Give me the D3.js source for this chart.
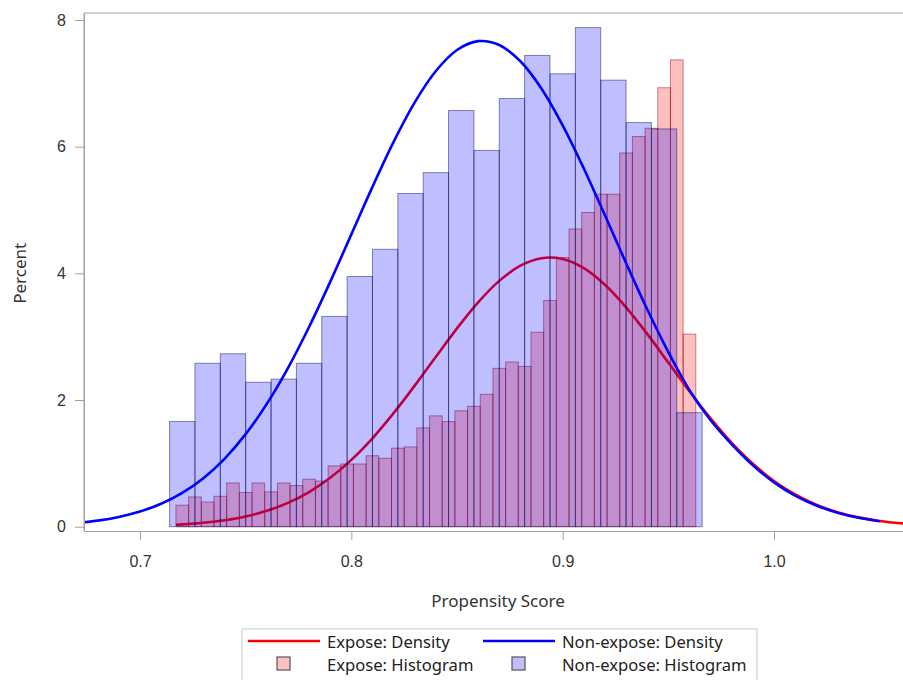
<!DOCTYPE html>
<html>
<head>
<meta charset="utf-8">
<script src="https://cdn.jsdelivr.net/npm/d3@7"></script>
<style>
  body { margin: 0; background: #fff; }
  svg { display: block; font-family: "Noto Sans", "Open Sans", sans-serif; }
</style>
</head>
<body>
<div id="chart"></div>
<script>
// histogram bins (midpoints) and percents
const exposeBins = [0.720, 0.726, 0.732, 0.738, 0.744, 0.750, 0.756, 0.762, 0.768, 0.774,
  0.780, 0.786, 0.792, 0.798, 0.804, 0.810, 0.816, 0.822, 0.828, 0.834,
  0.840, 0.846, 0.852, 0.858, 0.864, 0.870, 0.876, 0.882, 0.888, 0.894,
  0.900, 0.906, 0.912, 0.918, 0.924, 0.930, 0.936, 0.942, 0.948, 0.954, 0.960];
const exposePercent = [0.34, 0.47, 0.39, 0.48, 0.69, 0.54, 0.69, 0.55, 0.69, 0.65,
  0.75, 0.72, 0.96, 0.99, 0.99, 1.12, 1.08, 1.24, 1.26, 1.56,
  1.75, 1.66, 1.83, 1.90, 2.09, 2.50, 2.60, 2.53, 3.07, 3.57,
  4.25, 4.70, 4.96, 5.25, 5.25, 5.90, 6.16, 6.29, 6.93, 7.37, 3.04];
const exposeBinWidth = 0.006;

const nonExposeBins = [0.720, 0.732, 0.744, 0.756, 0.768, 0.780, 0.792, 0.804, 0.816, 0.828,
  0.840, 0.852, 0.864, 0.876, 0.888, 0.900, 0.912, 0.924, 0.936, 0.948, 0.960];
const nonExposePercent = [1.66, 2.58, 2.73, 2.28, 2.33, 2.58, 3.32, 3.95, 4.38, 5.26,
  5.59, 6.57, 5.94, 6.76, 7.44, 7.15, 7.88, 7.05, 6.38, 6.28, 1.80];
const nonExposeBinWidth = 0.012;

// density curves
const exposeDensityX = [0.717, 0.72, 0.73, 0.74, 0.75, 0.76, 0.77, 0.78, 0.79, 0.80,
  0.81, 0.82, 0.83, 0.84, 0.85, 0.86, 0.87, 0.88, 0.89, 0.90,
  0.91, 0.92, 0.93, 0.94, 0.95, 0.96, 0.97, 0.98, 0.99, 1.00,
  1.01, 1.02, 1.03, 1.04, 1.05, 1.06, 1.07];
const exposeDensity = [0.030, 0.036, 0.061, 0.101, 0.161, 0.250, 0.376, 0.547, 0.772, 1.055,
  1.396, 1.792, 2.227, 2.683, 3.131, 3.542, 3.881, 4.121, 4.239, 4.226,
  4.082, 3.820, 3.464, 3.044, 2.591, 2.138, 1.709, 1.323, 0.993, 0.722,
  0.509, 0.347, 0.230, 0.147, 0.091, 0.055, 0.032];

const nonExposeDensityX = [0.67, 0.68, 0.69, 0.70, 0.71, 0.72, 0.73, 0.74, 0.75, 0.76,
  0.77, 0.78, 0.79, 0.80, 0.81, 0.82, 0.83, 0.84, 0.85, 0.86,
  0.87, 0.88, 0.89, 0.90, 0.91, 0.92, 0.93, 0.94, 0.95, 0.96,
  0.97, 0.98, 0.99, 1.00, 1.01, 1.02, 1.03, 1.04, 1.05];
const nonExposeDensity = [0.059, 0.096, 0.154, 0.239, 0.362, 0.534, 0.766, 1.072, 1.461, 1.939,
  2.505, 3.153, 3.865, 4.615, 5.365, 6.075, 6.699, 7.194, 7.526, 7.666,
  7.605, 7.348, 6.915, 6.337, 5.656, 4.916, 4.162, 3.432, 2.756, 2.155,
  1.68, 1.30, 0.97, 0.70, 0.49, 0.335, 0.22, 0.14, 0.085];

const xTicks = [0.7, 0.8, 0.9, 1.0];
const yTicks = [0, 2, 4, 6, 8];

const legendItems = ['Expose: Density', 'Non-expose: Density', 'Expose: Histogram', 'Non-expose: Histogram'];

const options = { width: 903, height: 680 };
const plot = { left: 84, right: 912, top: 13, bottom: 531 };

const svg = d3.select('#chart')
  .append('svg')
  .attr('width', options.width)
  .attr('height', options.height);

const x = d3.scaleLinear()
  .domain([0.6735, 1.0653])
  .range([plot.left, plot.right]);

const y = d3.scaleLinear()
  .domain([-0.068, 8.11])
  .range([plot.bottom, plot.top]);

svg.append('clipPath')
  .attr('id', 'plot-clip')
  .append('rect')
  .attr('x', plot.left)
  .attr('y', plot.top)
  .attr('width', plot.right - plot.left)
  .attr('height', plot.bottom - plot.top);

const g = svg.append('g').attr('clip-path', 'url(#plot-clip)');

const line = d3.line()
  .x(d => x(d[0]))
  .y(d => y(d[1]))
  .curve(d3.curveCatmullRom.alpha(0.5));

function drawBars(bins, values, width, fill, stroke) {
  g.append('g')
    .selectAll('rect')
    .data(bins.map((b, i) => ({ mid: b, v: values[i] })))
    .enter()
    .append('rect')
    .attr('x', d => x(d.mid - width / 2))
    .attr('width', d => x(d.mid + width / 2) - x(d.mid - width / 2))
    .attr('y', d => y(d.v))
    .attr('height', d => y(0) - y(d.v))
    .attr('fill', fill)
    .attr('stroke', stroke)
    .attr('stroke-width', 1);
}

function drawCurve(xs, ys, color) {
  g.append('path')
    .datum(xs.map((v, i) => [v, ys[i]]))
    .attr('fill', 'none')
    .attr('stroke', color)
    .attr('stroke-width', 2.6)
    .attr('d', line);
}

// expose first, non-expose overlaid on top
drawBars(exposeBins, exposePercent, exposeBinWidth, 'rgba(255,0,0,0.25)', 'rgba(130,0,0,0.45)');
drawCurve(exposeDensityX, exposeDensity, '#ff0000');
drawBars(nonExposeBins, nonExposePercent, nonExposeBinWidth, 'rgba(0,0,255,0.25)', 'rgba(0,0,80,0.45)');
drawCurve(nonExposeDensityX, nonExposeDensity, '#0000ff');

// frame and axes
const axisColor = '#a0a0a0';
svg.append('path')
  .attr('d', `M${plot.left},${plot.bottom}V${plot.top}H${plot.right}`)
  .attr('fill', 'none')
  .attr('stroke', axisColor);

const xAxis = svg.append('g')
  .attr('transform', `translate(0,${plot.bottom})`)
  .call(d3.axisBottom(x).tickValues(xTicks).tickFormat(d3.format('.1f')).tickSize(9).tickSizeOuter(0));
xAxis.select('.domain').attr('stroke', axisColor);
xAxis.selectAll('.tick line').attr('stroke', axisColor);
xAxis.selectAll('.tick text')
  .attr('y', 36).attr('dy', 0)
  .attr('fill', '#333')
  .attr('font-size', 16);

const yAxis = svg.append('g')
  .attr('transform', `translate(${plot.left},0)`)
  .call(d3.axisLeft(y).tickValues(yTicks).tickFormat(d3.format('d')).tickSize(9).tickSizeOuter(0));
yAxis.select('.domain').attr('stroke', axisColor);
yAxis.selectAll('.tick line').attr('stroke', axisColor);
yAxis.selectAll('.tick text')
  .attr('x', -18)
  .attr('fill', '#333')
  .attr('font-size', 16);

svg.append('text')
  .text('Propensity Score')
  .attr('x', (plot.left + plot.right) / 2)
  .attr('y', 607)
  .attr('text-anchor', 'middle')
  .attr('font-size', 17)
  .attr('fill', '#333');

svg.append('text')
  .text('Percent')
  .attr('transform', `translate(26,${(y(0) + y(8)) / 2}) rotate(-90)`)
  .attr('text-anchor', 'middle')
  .attr('font-size', 17)
  .attr('fill', '#333');

// legend
const legend = svg.append('g');
legend.append('rect')
  .attr('x', 242).attr('y', 629)
  .attr('width', 515).attr('height', 56)
  .attr('fill', 'none')
  .attr('stroke', '#c8c8c8');

const legendPos = [
  { lx: 248, tx: 327, cy: 642, kind: 'line', color: '#ff0000' },
  { lx: 483, tx: 562, cy: 642, kind: 'line', color: '#0000ff' },
  { lx: 277, tx: 327, cy: 665, kind: 'box', color: 'rgb(255,191,191)' },
  { lx: 512, tx: 562, cy: 665, kind: 'box', color: 'rgb(191,191,255)' },
];

legendItems.forEach((label, i) => {
  const p = legendPos[i];
  if (p.kind === 'line') {
    legend.append('line')
      .attr('x1', p.lx).attr('x2', p.lx + 72)
      .attr('y1', p.cy - 1).attr('y2', p.cy - 1)
      .attr('stroke', p.color)
      .attr('stroke-width', 2.6);
  } else {
    legend.append('rect')
      .attr('x', p.lx).attr('y', p.cy - 8)
      .attr('width', 13).attr('height', 13)
      .attr('fill', p.color)
      .attr('stroke', '#555')
      .attr('stroke-width', 1.2);
  }
  legend.append('text')
    .text(label)
    .attr('x', p.tx)
    .attr('y', p.cy)
    .attr('dy', '0.35em')
    .attr('font-size', 16.6)
    .attr('fill', '#222');
});
</script>
</body>
</html>
